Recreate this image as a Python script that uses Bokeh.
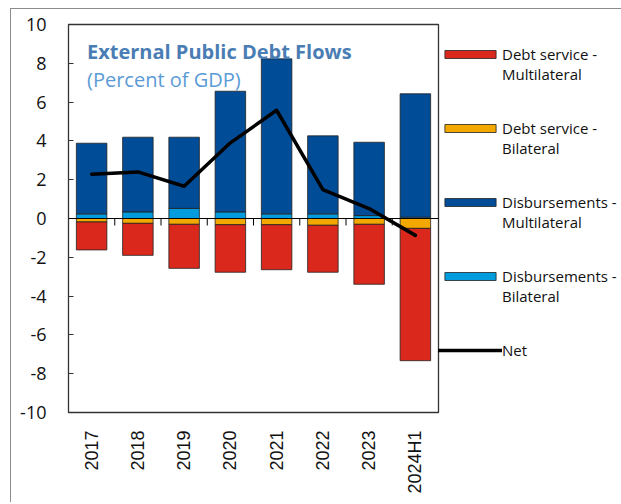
import numpy as np
from bokeh.plotting import figure
from bokeh.models import ColumnDataSource, Legend, LegendItem, FixedTicker, Span, Label
from bokeh.embed import file_html
from bokeh.resources import INLINE

categories = ["2017", "2018", "2019", "2020", "2021", "2022", "2023", "2024H1"]
disb_bilateral = [0.24, 0.34, 0.52, 0.34, 0.24, 0.24, 0.15, 0.07]
disb_multilateral = [3.64, 3.85, 3.67, 6.22, 7.99, 4.02, 3.78, 6.36]
ds_bilateral = [-0.18, -0.25, -0.30, -0.32, -0.32, -0.35, -0.30, -0.51]
ds_multilateral = [-1.44, -1.65, -2.27, -2.45, -2.32, -2.42, -3.09, -6.82]
net = [2.28, 2.40, 1.66, 3.90, 5.58, 1.49, 0.51, -0.87]
y_ticks = list(range(-10, 11, 2))

xs = list(range(len(categories)))
source = ColumnDataSource(dict(
    x=xs, disb_bil=disb_bilateral, disb_mul=disb_multilateral,
    ds_bil=ds_bilateral, ds_mul=ds_multilateral, net=net))

RED = "#DA291C"
YEL = "#F3A800"
DBLUE = "#004C97"
LBLUE = "#009CDE"

p = figure(frame_width=370, frame_height=388,
           x_range=(-0.5, len(categories) - 0.5), y_range=(-10, 10),
           output_backend="svg", toolbar_location=None,
           min_border_left=57, min_border_top=15, min_border_bottom=90, min_border_right=10,
           styles={"margin-left": "10px", "margin-top": "8px",
                   "border-left": "1px solid #8c8c8c", "border-top": "1px solid #8c8c8c"})
p.background_fill_color = "white"
p.border_fill_color = "white"
p.outline_line_color = "#333333"
p.outline_line_width = 1.3
p.grid.visible = False

pos = p.vbar_stack(["disb_bil", "disb_mul"], x="x", width=0.66, source=source,
                   color=[LBLUE, DBLUE], line_color="#222222", line_width=0.8)
neg = p.vbar_stack(["ds_bil", "ds_mul"], x="x", width=0.66, source=source,
                   color=[YEL, RED], line_color="#222222", line_width=0.8)

p.add_layout(Span(location=0, dimension="width", line_color="black", line_width=1))
bnd = np.arange(len(categories) - 1) + 0.5
p.segment(x0=bnd, x1=bnd, y0=np.zeros_like(bnd), y1=np.full_like(bnd, -0.36),
          line_color="black", line_width=1)

net_r = p.line(x="x", y="net", source=source, line_color="black", line_width=3.5,
               line_join="round", line_cap="round")

# axes
p.yaxis.ticker = FixedTicker(ticks=y_ticks)
p.yaxis.major_label_overrides = {t: str(t) for t in y_ticks}
p.yaxis.axis_line_color = None
p.yaxis.major_tick_in = 5
p.yaxis.major_tick_out = 0
p.yaxis.major_tick_line_color = "#333333"
p.yaxis.minor_tick_line_color = None
p.yaxis.major_label_standoff = 22
p.yaxis.major_label_text_font = "Open Sans"
p.yaxis.major_label_text_font_size = "18px"
p.yaxis.major_label_text_color = "#111111"

p.xaxis.ticker = FixedTicker(ticks=xs)
p.xaxis.major_label_overrides = {i: c for i, c in enumerate(categories)}
p.xaxis.axis_line_color = None
p.xaxis.major_tick_line_color = None
p.xaxis.minor_tick_line_color = None
p.xaxis.major_label_orientation = np.pi / 2
p.xaxis.major_label_standoff = 12
p.xaxis.major_label_text_font = "Liberation Sans"
p.xaxis.major_label_text_font_size = "18px"
p.xaxis.major_label_text_color = "#111111"

# title inside plot
p.add_layout(Label(x=-0.1, y=8.59, text="External Public Debt Flows", text_font="Open Sans",
                   text_font_style="bold", text_font_size="20px", text_color="#4A7DB4",
                   text_baseline="alphabetic"))
p.add_layout(Label(x=-0.1, y=7.17, text="(Percent of GDP)", text_font="Open Sans",
                   text_font_size="20px", text_color="#5B9BD5", text_baseline="alphabetic"))

legend = Legend(items=[
    LegendItem(label="\nDebt service -\nMultilateral", renderers=[neg[1]]),
    LegendItem(label="\nDebt service -\nBilateral", renderers=[neg[0]]),
    LegendItem(label="\nDisbursements -\nMultilateral", renderers=[pos[1]]),
    LegendItem(label="\nDisbursements -\nBilateral", renderers=[pos[0]]),
    LegendItem(label="\nNet\n\u00a0", renderers=[net_r]),
], location="top_left")
legend.margin = 0
legend.padding = 3
legend.spacing = 14
legend.glyph_width = 64
legend.glyph_height = 10
legend.label_standoff = 0
legend.label_text_font = "Open Sans"
legend.label_text_font_size = "15px"
legend.label_text_line_height = 1.4
legend.label_text_color = "#111111"
legend.border_line_color = None
legend.background_fill_alpha = 0
p.add_layout(legend, "right")

open("out.html", "w").write(file_html(p, INLINE))
